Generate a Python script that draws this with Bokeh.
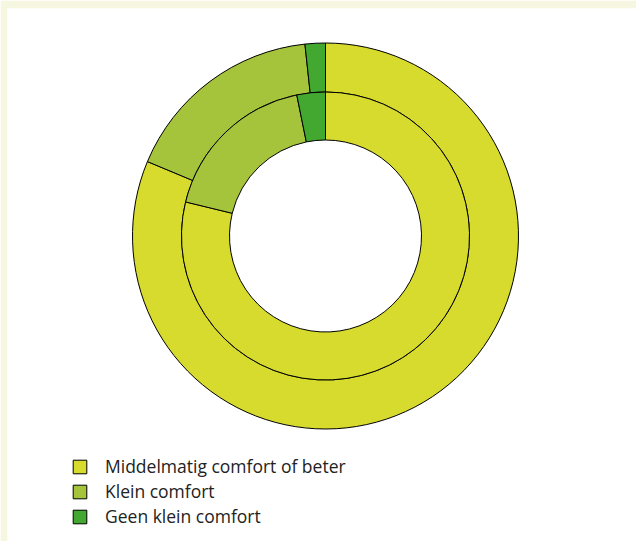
import numpy as np
from bokeh.plotting import figure
from bokeh.models import ColumnDataSource, Range1d, Legend, LegendItem
from bokeh.embed import file_html
from bokeh.resources import INLINE

categories = ["Middelmatig comfort of beter", "Klein comfort", "Geen klein comfort"]
outer_values = [81.3, 17.0, 1.7]
inner_values = [78.8, 18.0, 3.2]
colors = ["#d7db2d", "#a5c43c", "#43a82f"]

W, H = 636, 541
BL, BT = 7, 8
FW, FH = W - BL, H - BT
cx, cy_top = 318, 227.5
p = figure(width=W, height=H, output_backend="svg", toolbar_location=None,
           x_range=Range1d(-cx, FW - cx), y_range=Range1d(-(FH - cy_top), cy_top),
           min_border=0, min_border_left=BL, min_border_top=BT,
           min_border_right=0, min_border_bottom=0,
           outline_line_color=None, background_fill_color="white",
           border_fill_color="#f7f7e1")
p.axis.visible = False
p.xgrid.visible = False
p.ygrid.visible = False


def ring_source(vals):
    v = np.array(vals, dtype=float)
    frac = v / v.sum()
    ends = np.cumsum(frac)
    starts = ends - frac
    return ColumnDataSource(dict(
        cat=categories, color=colors,
        start=np.pi / 2 - 2 * np.pi * starts,
        end=np.pi / 2 - 2 * np.pi * ends,
    ))


outer = p.annular_wedge(x=0, y=0, inner_radius=144, outer_radius=193,
                        start_angle="start", end_angle="end", direction="clock",
                        fill_color="color", line_color="black", line_width=1,
                        source=ring_source(outer_values))
inner = p.annular_wedge(x=0, y=0, inner_radius=96, outer_radius=144,
                        start_angle="start", end_angle="end", direction="clock",
                        fill_color="color", line_color="black", line_width=1,
                        source=ring_source(inner_values))

items = [LegendItem(label=c, renderers=[outer], index=i) for i, c in enumerate(categories)]
legend = Legend(items=items, location=(64, 13), orientation="vertical",
                glyph_width=17, glyph_height=17, label_standoff=17, spacing=1,
                label_height=22, padding=0, margin=0,
                label_text_font="Open Sans", label_text_font_size="17.5px",
                label_text_color="#222222",
                border_line_alpha=0, background_fill_alpha=0)
p.add_layout(legend)

html = file_html(p, INLINE)
open("out.html", "w").write(html)
